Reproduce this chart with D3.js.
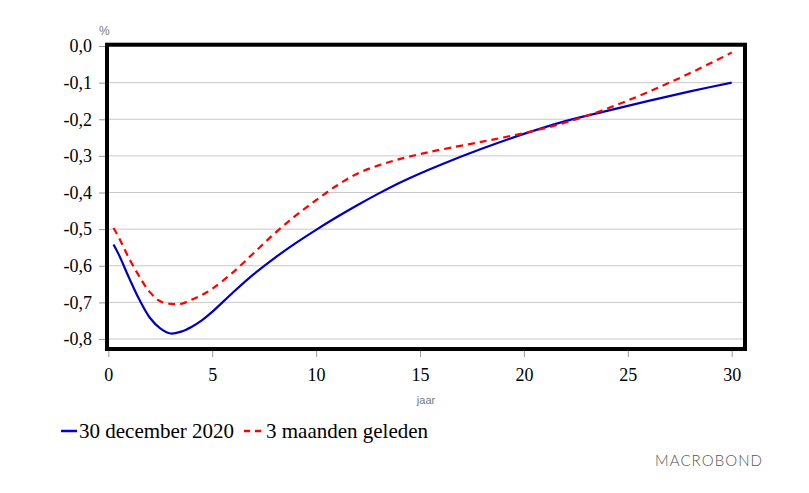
<!DOCTYPE html>
<html><head><meta charset="utf-8">
<script src="https://cdn.jsdelivr.net/npm/d3@7"></script>
<style>body{margin:0;background:#fff}svg{display:block}</style>
</head><body>
<svg id="c" width="809" height="493"></svg>
<script>
const maturities = [0.25,0.5,1,1.5,2,2.5,3,3.5,4,4.5,5,6,7,8,9,10,11,12,13,14,15,16,18,20,22,24,26,28,30];
const curveNow   = [-0.542,-0.569,-0.633,-0.693,-0.742,-0.771,-0.785,-0.780,-0.767,-0.749,-0.726,-0.673,-0.623,-0.579,-0.539,-0.502,-0.467,-0.434,-0.403,-0.374,-0.348,-0.324,-0.280,-0.240,-0.205,-0.177,-0.150,-0.124,-0.100];
const curvePrev  = [-0.497,-0.522,-0.580,-0.630,-0.672,-0.697,-0.704,-0.704,-0.693,-0.680,-0.663,-0.618,-0.565,-0.512,-0.464,-0.421,-0.381,-0.348,-0.326,-0.309,-0.295,-0.283,-0.261,-0.238,-0.209,-0.171,-0.125,-0.074,-0.018];
const xTicks = [0,5,10,15,20,25,30];
const yTicks = [0,-0.1,-0.2,-0.3,-0.4,-0.5,-0.6,-0.7,-0.8];
const seriesNames = ["30 december 2020","3 maanden geleden"];

const svg = d3.select("#c");
const x = d3.scaleLinear().domain([0,30]).range([108.3,731.7]);
const y = d3.scaleLinear().domain([0,-0.8]).range([46,339]);
const fmt = v => d3.format(".1f")(v).replace(".",",").replace("−","-");
const serif = "'Liberation Serif','Times New Roman',serif";
const sans = "'Liberation Sans',Arial,sans-serif";

// gridlines
svg.append("g").selectAll("line").data(yTicks).join("line")
  .attr("x1",107).attr("x2",745).attr("y1",d=>y(d)).attr("y2",d=>y(d))
  .attr("stroke","#c8c8c8").attr("stroke-width",1);

// y axis
const yAxis = svg.append("g").attr("transform","translate(105,0)")
  .call(d3.axisLeft(y).tickValues(yTicks).tickFormat(fmt).tickSize(6).tickPadding(7));
yAxis.select(".domain").remove();
yAxis.selectAll(".tick line").attr("stroke","#999");
yAxis.selectAll(".tick text").attr("font-family",serif).attr("font-size",18).attr("fill","#000");

// x axis
const xAxis = svg.append("g").attr("transform","translate(0,351)")
  .call(d3.axisBottom(x).tickValues(xTicks).tickFormat(d3.format("d")).tickSize(6).tickPadding(11));
xAxis.select(".domain").remove();
xAxis.selectAll(".tick line").attr("stroke","#999");
xAxis.selectAll(".tick text").attr("font-family",serif).attr("font-size",18).attr("fill","#000");

// lines
const line = d3.line().x(d=>x(d[0])).y(d=>y(d[1])).curve(d3.curveCatmullRom.alpha(0.5));
svg.append("path").datum(maturities.map((m,i)=>[m,curveNow[i]]))
  .attr("d",line).attr("fill","none").attr("stroke","#0000c0").attr("stroke-width",2.2);
svg.append("path").datum(maturities.map((m,i)=>[m,curvePrev[i]]))
  .attr("d",line).attr("fill","none").attr("stroke","#ff0000").attr("stroke-width",2.2)
  .attr("stroke-dasharray","7,5");

// frame
svg.append("rect").attr("x",107).attr("y",44.7).attr("width",638).attr("height",304.3)
  .attr("fill","none").attr("stroke","#000").attr("stroke-width",4);

// unit labels
svg.append("text").attr("x",99).attr("y",35).text("%")
  .attr("font-family",sans).attr("font-size",12).attr("fill","#777");
svg.append("text").attr("x",426).attr("y",404).attr("text-anchor","middle").text("jaar")
  .attr("font-family",sans).attr("font-size",11).attr("fill","#777");

// legend
const lg = svg.append("g");
lg.append("line").attr("x1",61).attr("x2",77).attr("y1",431).attr("y2",431)
  .attr("stroke","#0000e0").attr("stroke-width",2.5);
lg.append("text").attr("x",79).attr("y",438).text(seriesNames[0])
  .attr("font-family",serif).attr("font-size",21).attr("fill","#000");
lg.append("line").attr("x1",244).attr("x2",263).attr("y1",431).attr("y2",431)
  .attr("stroke","#ff0000").attr("stroke-width",2.5).attr("stroke-dasharray","6,5");
lg.append("text").attr("x",266).attr("y",438).text(seriesNames[1])
  .attr("font-family",serif).attr("font-size",21).attr("fill","#000");

// branding
svg.append("text").attr("x",655).attr("y",466).text("MACROBOND")
  .attr("font-family","Lato, 'Liberation Sans', sans-serif").attr("font-weight",300)
  .attr("font-size",15).attr("fill","#555")
  .attr("textLength",107).attr("lengthAdjust","spacing");
</script>
</body></html>
